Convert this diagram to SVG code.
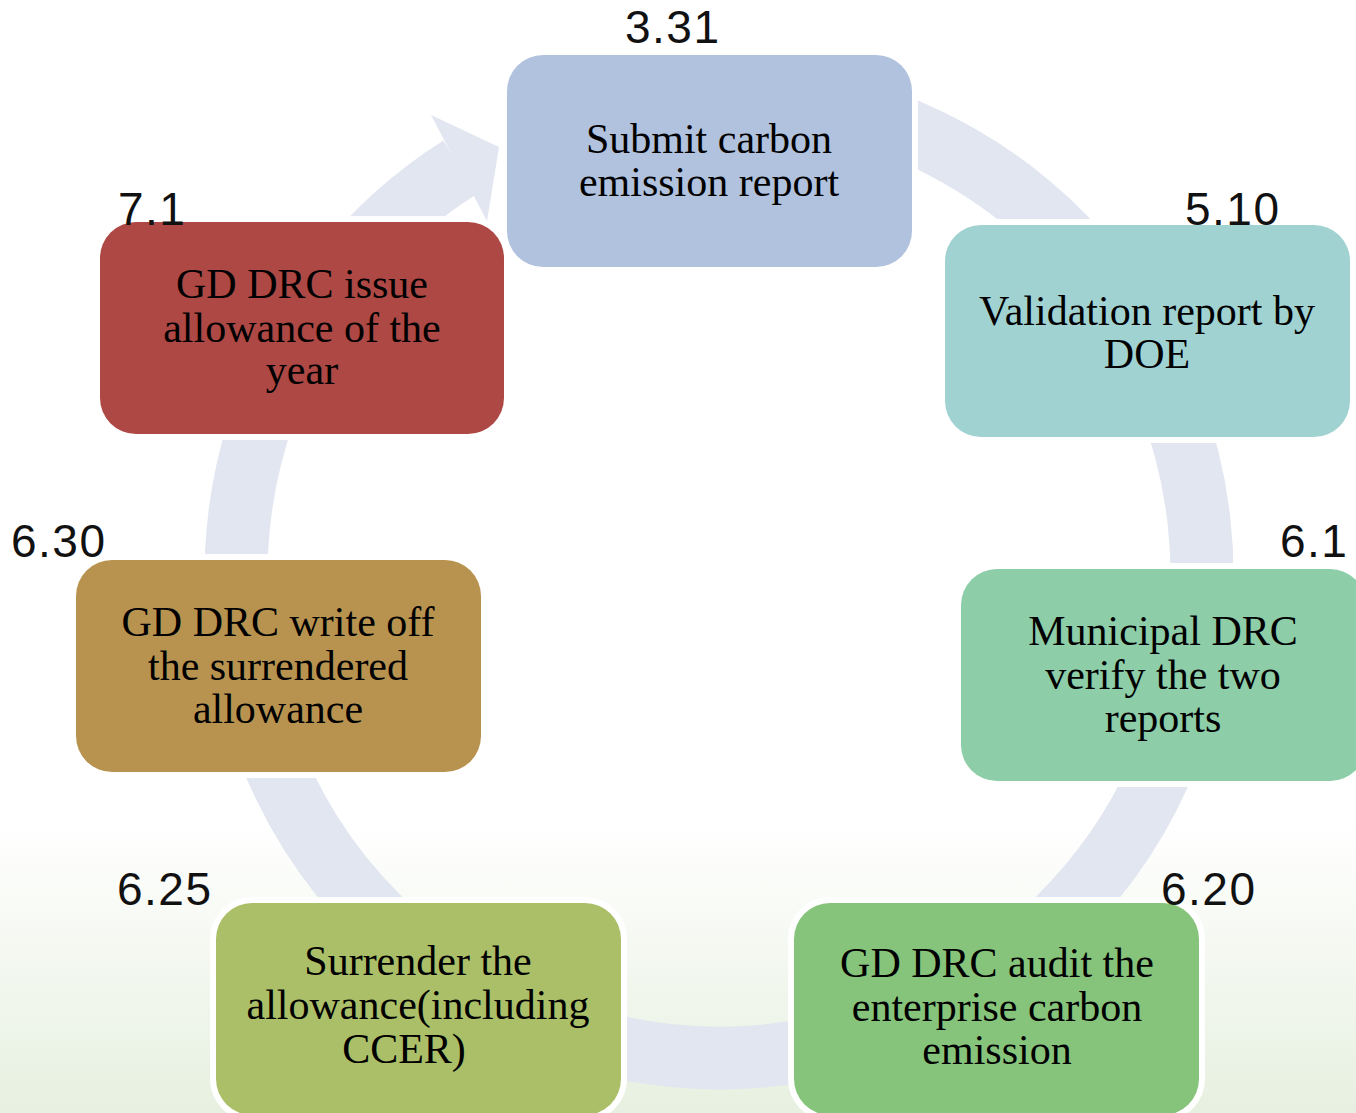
<svg xmlns="http://www.w3.org/2000/svg" width="1356" height="1113" viewBox="0 0 1356 1113">
  <defs>
    <linearGradient id="bg" x1="0" y1="0" x2="0" y2="1">
      <stop offset="0" stop-color="#ffffff"/>
      <stop offset="0.74" stop-color="#ffffff"/>
      <stop offset="1" stop-color="#e7f0e0"/>
    </linearGradient>
    <style>
      .box { stroke: #ffffff; stroke-width: 12; paint-order: stroke; }
      .txt { font-family: "Liberation Serif", "Times New Roman", serif; font-size: 42px; fill: #000000; text-anchor: middle; }
      .num { font-family: "Liberation Sans", Arial, sans-serif; font-size: 46px; fill: #111111; letter-spacing: 1.5px; }
      .band { fill: none; stroke: #e1e6f0; stroke-width: 63; }
      .head { fill: #e1e6f0; }
    </style>
  </defs>
  <rect x="0" y="0" width="1356" height="1113" fill="url(#bg)"/>

  <g id="connectors">
    <path class="band" d="M 719 92 A 483 483 0 1 1 460.2 167.2"/>
    <polygon class="head" points="431,115 499,147 487,221"/>
  </g>

  <g id="node-submit">
    <rect class="box" x="507" y="55" width="405" height="212" rx="36" fill="#b0c2de"/>
    <text class="txt" x="709" y="153">Submit carbon</text>
    <text class="txt" x="709" y="196">emission report</text>
    <text class="num" x="625" y="43">3.31</text>
  </g>

  <g id="node-validation">
    <rect class="box" x="945" y="225" width="405" height="212" rx="36" fill="#a1d2d2"/>
    <text class="txt" x="1147" y="325">Validation report by</text>
    <text class="txt" x="1147" y="368">DOE</text>
    <text class="num" x="1185" y="225">5.10</text>
  </g>

  <g id="node-municipal">
    <rect class="box" x="961" y="569" width="405" height="212" rx="36" fill="#8dcda8"/>
    <text class="txt" x="1163" y="645">Municipal DRC</text>
    <text class="txt" x="1163" y="689">verify the two</text>
    <text class="txt" x="1163" y="732">reports</text>
    <text class="num" x="1280" y="557">6.1</text>
  </g>

  <g id="node-audit">
    <rect class="box" x="794" y="903" width="405" height="212" rx="36" fill="#87c47b"/>
    <text class="txt" x="997" y="977">GD DRC audit the</text>
    <text class="txt" x="997" y="1021">enterprise carbon</text>
    <text class="txt" x="997" y="1064">emission</text>
    <text class="num" x="1161" y="905">6.20</text>
  </g>

  <g id="node-surrender">
    <rect class="box" x="216" y="903" width="405" height="212" rx="36" fill="#abbf68"/>
    <text class="txt" x="418" y="975">Surrender the</text>
    <text class="txt" x="418" y="1019">allowance(including</text>
    <text class="txt" x="404" y="1063">CCER)</text>
    <text class="num" x="117" y="905">6.25</text>
  </g>

  <g id="node-writeoff">
    <rect class="box" x="76" y="560" width="405" height="212" rx="36" fill="#b89350"/>
    <text class="txt" x="278" y="636">GD DRC write off</text>
    <text class="txt" x="278" y="680">the surrendered</text>
    <text class="txt" x="278" y="723">allowance</text>
    <text class="num" x="11" y="557">6.30</text>
  </g>

  <g id="node-issue">
    <rect class="box" x="100" y="222" width="404" height="212" rx="36" fill="#ad4844"/>
    <text class="txt" x="302" y="298">GD DRC issue</text>
    <text class="txt" x="302" y="342">allowance of the</text>
    <text class="txt" x="302" y="384">year</text>
    <text class="num" x="118" y="225">7.1</text>
  </g>
</svg>
